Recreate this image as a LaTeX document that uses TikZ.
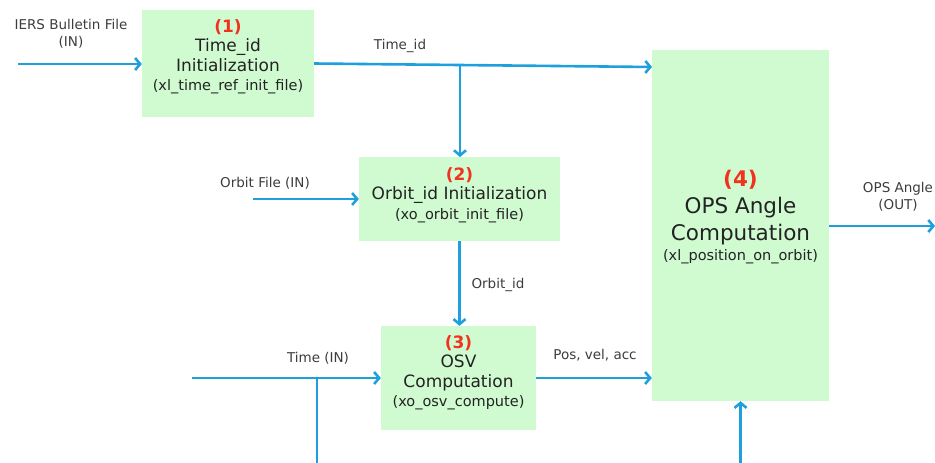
\documentclass[tikz,border=0pt]{standalone}
\usepackage{fontspec}
\setmainfont{DejaVu Sans}
\usetikzlibrary{arrows.meta}

\definecolor{blkfill}{RGB}{208,250,208}
\definecolor{flowblue}{RGB}{30,160,220}
\definecolor{numred}{RGB}{240,50,30}
\definecolor{txtgray}{RGB}{35,35,35}
\definecolor{lblgray}{RGB}{60,60,60}

\begin{document}
\begin{tikzpicture}[x=1pt,y=-1pt]
    \tikzstyle{blk}=[rectangle, fill=blkfill, inner sep=0pt]
    \tikzstyle{blktxt}=[align=center, text=txtgray, inner sep=0pt, font=\fontsize{17}{19.5}\selectfont]
    \tikzstyle{lbl}=[align=center, text=lblgray, inner sep=0pt, font=\fontsize{13.5}{17.5}\selectfont]
    \tikzstyle{flow}=[draw=flowblue, line width=2.6pt, -{Straight Barb[length=5pt,width=12pt]}]
    \tikzstyle{tap}=[draw=flowblue, line width=2.6pt]

    \useasboundingbox (0,0) rectangle (935,463);

    % processing blocks
    \node[blk, minimum width=172pt, minimum height=107pt] (b1) at (228,63.5) {};
    \node[blk, minimum width=201pt, minimum height=84pt]  (b2) at (459.5,199) {};
    \node[blk, minimum width=155pt, minimum height=104pt] (b3) at (458.5,378) {};
    \node[blk, minimum width=177pt, minimum height=351pt] (b4) at (740.5,225.5) {};

    \node[blktxt] (t1) at (228,57) {{\bfseries\color{numred}(1)}\\Time\_id\\Initialization\\{\fontsize{14.5}{17}\selectfont(xl\_time\_ref\_init\_file)}};
    \node[blktxt] (t2) at (459.5,195) {{\bfseries\color{numred}(2)}\\Orbit\_id Initialization\\{\fontsize{14.5}{17}\selectfont(xo\_orbit\_init\_file)}};
    \node[blktxt] (t3) at (458.5,373) {{\bfseries\color{numred}(3)}\\OSV\\Computation\\{\fontsize{14.5}{17}\selectfont(xo\_osv\_compute)}};
    \node[blktxt, font=\fontsize{21.5}{27}\selectfont] (t4) at (740.5,217) {{\bfseries\color{numred}(4)}\\OPS Angle\\Computation\\[-7pt]{\fontsize{14.5}{17}\selectfont(xl\_position\_on\_orbit)}};

    % free ends
    \coordinate (iersin) at (18,64);
    \coordinate (tidend) at (652,67);
    \coordinate (orbin) at (253,199);
    \coordinate (timein) at (192,378);
    \coordinate (timetap) at (317,378);
    \coordinate (timedown) at (317,463);
    \coordinate (b4bot) at (740.5,463);
    \coordinate (opsout) at (935,226);

    % connectors
    \draw[flow] (iersin) -- (iersin -| b1.west);
    \draw[flow] (b1.east) -- (tidend);
    \draw[flow] (460,65) -- (460,157);
    \draw[flow] (orbin) -- (b2.west);
    \draw[flow] (b2.south) -- (b2.south |- b3.north);
    \draw[flow] (timein) -- (b3.west);
    \draw[tap] (timetap) -- (timedown);
    \draw[flow] (b3.east) -- (b3.east -| b4.west);
    \draw[flow] (b4bot) -- (b4.south);
    \draw[flow] (b4.east |- opsout) -- (opsout);

    % edge labels
    \node[lbl] (liers) at (71,34) {IERS Bulletin File\\(IN)};
    \node[lbl] (ltid) at (400,46) {Time\_id};
    \node[lbl] (lorb) at (265,183) {Orbit File (IN)};
    \node[lbl] (loid) at (498,285) {Orbit\_id};
    \node[lbl] (ltime) at (318,358) {Time (IN)};
    \node[lbl] (lpva) at (595,355) {Pos, vel, acc};
    \node[lbl] (lops) at (898,197) {OPS Angle\\(OUT)};
\end{tikzpicture}
\end{document}
